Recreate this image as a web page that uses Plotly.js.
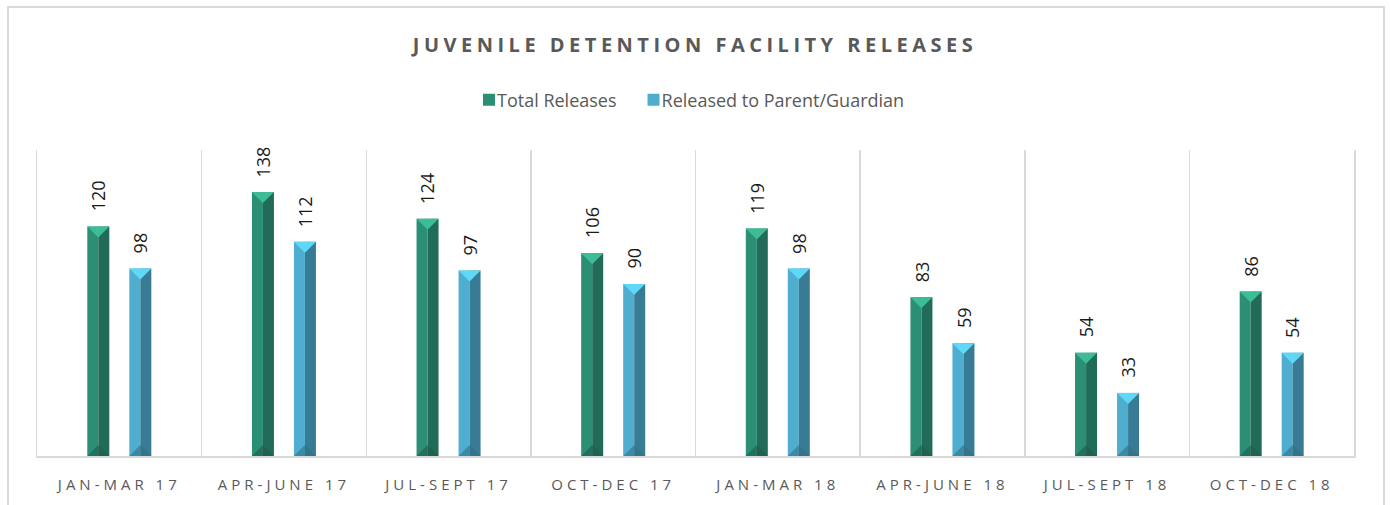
<!DOCTYPE html>
<html>
<head>
<meta charset="utf-8">
<script src="https://cdn.plot.ly/plotly-3.0.1.min.js"></script>
<style>
  html, body { margin: 0; padding: 0; background: #fff; }
  #chart { width: 1390px; height: 505px; }
  .gtitle { letter-spacing: 4.5px; }
  .xtick text { letter-spacing: 4px; }
  .legendtext { transform: translateX(-12px); }
</style>
</head>
<body>
<div id="chart"></div>
<script>
// ---- data ----
const categories = ["JAN-MAR 17", "APR-JUNE 17", "JUL-SEPT 17", "OCT-DEC 17",
                    "JAN-MAR 18", "APR-JUNE 18", "JUL-SEPT 18", "OCT-DEC 18"];
const totalReleases = [120, 138, 124, 106, 119, 83, 54, 86];
const releasedToParent = [98, 112, 97, 90, 98, 59, 33, 54];
const seriesNames = ["Total Releases", "Released to Parent/Guardian"];

// ---- style ----
const idx = categories.map((c, i) => i);
const barW = 0.1337;          // bar width in category units
const centerOff = 0.1276;     // offset of each bar centre from category centre
const bevel = 5.75;           // bevel triangle height in value units
const styles = [
  {off: -centerOff, left: "#2B8F75", right: "#226B58", top: "#3CBD96", bottom: "#1E5C4B"},
  {off:  centerOff, left: "#4FAED0", right: "#377C94", top: "#5FD8F8", bottom: "#316F86"}
];
const seriesVals = [totalReleases, releasedToParent];

const traces = [];
seriesVals.forEach((vals, s) => {
  const st = styles[s];
  const x0 = st.off - barW / 2;
  traces.push({
    type: "bar", x: idx, y: vals, name: seriesNames[s], legendgroup: "g" + s,
    offset: x0, width: barW / 2, marker: {color: st.left, line: {width: 0}},
    hoverinfo: "skip", showlegend: true
  });
  traces.push({
    type: "bar", x: idx, y: vals, name: seriesNames[s], legendgroup: "g" + s,
    offset: st.off, width: barW / 2, marker: {color: st.right, line: {width: 0}},
    hoverinfo: "skip", showlegend: false
  });
  // bevel triangles (top and bottom)
  const tx = [], ty = [], bx = [], by = [];
  vals.forEach((v, i) => {
    const c = i + st.off;
    tx.push(c - barW / 2, c + barW / 2, c, c - barW / 2, null);
    ty.push(v, v, v - bevel, v, null);
    bx.push(c - barW / 2, c + barW / 2, c, c - barW / 2, null);
    by.push(0, 0, bevel, 0, null);
  });
  traces.push({
    type: "scatter", mode: "lines", x: tx, y: ty, fill: "toself", fillcolor: st.top,
    line: {width: 0, color: st.top}, hoverinfo: "skip", showlegend: false, legendgroup: "g" + s
  });
  traces.push({
    type: "scatter", mode: "lines", x: bx, y: by, fill: "toself", fillcolor: st.bottom,
    line: {width: 0, color: st.bottom}, opacity: 0.6, hoverinfo: "skip", showlegend: false, legendgroup: "g" + s
  });
});

const annotations = [];
seriesVals.forEach((vals, s) => {
  vals.forEach((v, i) => {
    annotations.push({
      x: i + styles[s].off, y: v, xref: "x", yref: "y",
      text: String(v), showarrow: false, textangle: -90,
      xanchor: "center", yanchor: "bottom", yshift: 13,
      font: {family: "Open Sans", size: 18, color: "#1a1a1a"}
    });
  });
});

const boundaries = [];
for (let i = 0; i < categories.length - 1; i++) boundaries.push(i + 0.5);

const layout = {
  width: 1390, height: 505,
  margin: {l: 37, r: 36, t: 150, b: 49, pad: 0},
  paper_bgcolor: "#ffffff", plot_bgcolor: "#ffffff",
  barmode: "overlay",
  title: {
    text: "JUVENILE DETENTION FACILITY RELEASES",
    x: 0.5, xanchor: "center", y: 1 - 45 / 505, yanchor: "middle", yref: "container",
    font: {family: "Open Sans", size: 20, color: "#595959", weight: "bold"}
  },
  showlegend: true,
  legend: {
    orientation: "h", x: 0.5, xanchor: "center", y: 1.163, yanchor: "middle",
    font: {family: "Open Sans", size: 18, color: "#595959"},
    itemwidth: 30, tracegroupgap: 0, bgcolor: "rgba(0,0,0,0)"
  },
  xaxis: {
    type: "linear", range: [-0.5, categories.length - 0.5],
    tickmode: "array", tickvals: idx, ticktext: categories,
    showgrid: false, zeroline: false, ticks: "",
    showline: true, linecolor: "#D9D9D9", linewidth: 2,
    tickfont: {family: "Open Sans", size: 15, color: "#595959"},
    ticklabelstandoff: 14,
    minor: {tickmode: "array", tickvals: boundaries, showgrid: true, gridcolor: "#D9D9D9", gridwidth: 1.5, ticks: ""},
    fixedrange: true
  },
  yaxis: {
    range: [0, 160], showgrid: false, zeroline: false, showticklabels: false, ticks: "",
    showline: true, mirror: true, linecolor: "#D9D9D9", linewidth: 1.5,
    fixedrange: true
  },
  annotations: annotations,
  shapes: [{
    type: "rect", xref: "paper", yref: "paper",
    x0: (8 - 37) / 1317, x1: (1384 - 37) / 1317, y0: -0.5, y1: (456 - 7) / 306,
    line: {color: "#D9D9D9", width: 2}, fillcolor: "rgba(0,0,0,0)", layer: "below"
  }]
};

Plotly.newPlot("chart", traces, layout, {displayModeBar: false, staticPlot: true});
</script>
</body>
</html>
